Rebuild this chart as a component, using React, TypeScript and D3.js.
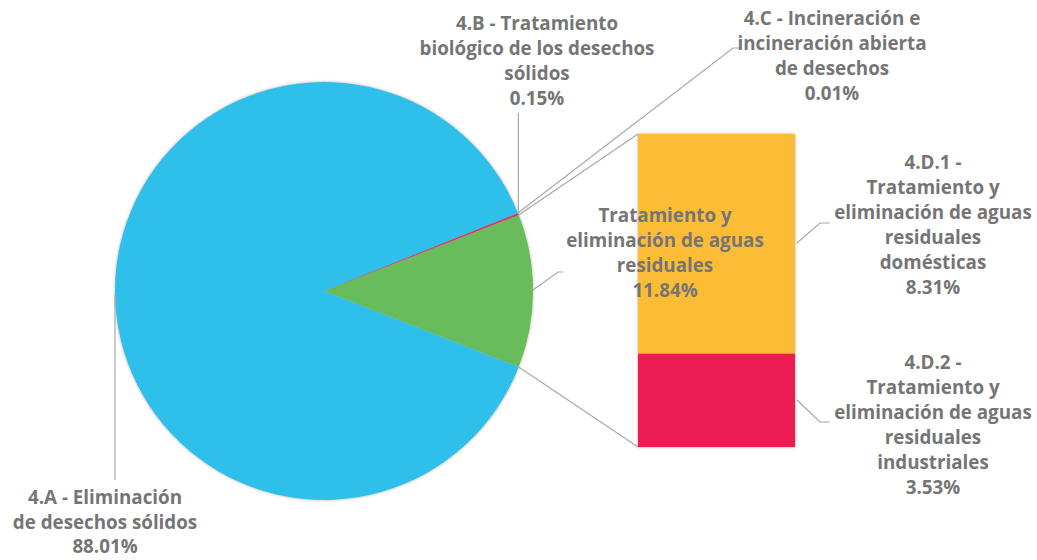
import React from "react";
import * as d3 from "d3";

const pieCategories = [
  "Tratamiento y eliminación de aguas residuales",
  "4.A - Eliminación de desechos sólidos",
  "4.C - Incineración e incineración abierta de desechos",
  "4.B - Tratamiento biológico de los desechos sólidos",
];
const pieValues = [11.84, 88.01, 0.01, 0.15];
const pieColors = ["#69BC5B", "#2FC0EA", "#9C27B0", "#E0306A"];

const barCategories = [
  "4.D.1 - Tratamiento y eliminación de aguas residuales domésticas",
  "4.D.2 - Tratamiento y eliminación de aguas residuales industriales",
];
const barValues = [8.31, 3.53];
const barColors = ["#FDBC36", "#EC1B52"];

const W = 1037;
const H = 560;
const cx = 324;
const cy = 291;
const R = 209;
const barX0 = 638;
const barX1 = 795;
const barTop = 134;
const barBottom = 447;

const TEXT = "#757575";
const LINE = "#a8a8a8";
const FONT = "'Open Sans', 'Noto Sans', sans-serif";
const FS = 18.8;
const LH = 25;

function Label({ x, y, lines, lh = LH }: { x: number; y: number; lines: string[]; lh?: number }) {
  return (
    <text x={x} y={y} textAnchor="middle" fontFamily={FONT} fontWeight={700} fontSize={FS} fill={TEXT}>
      {lines.map((l, i) => (
        <tspan key={i} x={x} dy={i === 0 ? 0 : lh}>
          {l}
        </tspan>
      ))}
    </text>
  );
}

export default function App() {
  const g = (pieValues[0] / d3.sum(pieValues)) * 2 * Math.PI;
  const start = Math.PI / 2 - g / 2;
  const pie = d3
    .pie<number>()
    .sort(null)
    .value((d) => d)
    .startAngle(start)
    .endAngle(start + 2 * Math.PI);
  const arcs = pie(pieValues);
  const arc = d3.arc<d3.PieArcDatum<number>>().innerRadius(0).outerRadius(R);

  const pt = (a: number, r: number = R) => [cx + r * Math.sin(a), cy - r * Math.cos(a)];
  const greenTop = pt(arcs[0].startAngle);
  const greenBot = pt(arcs[0].endAngle);

  const y = d3.scaleLinear().domain([0, d3.sum(barValues)]).range([barTop, barBottom]);
  let acc = 0;
  const bars = barValues.map((v, i) => {
    const r = { y0: y(acc), y1: y(acc + v), color: barColors[i], key: barCategories[i] };
    acc += v;
    return r;
  });

  const bStart = pt(arcs[3].startAngle + (arcs[3].endAngle - arcs[3].startAngle) / 2);
  const cPt = pt(arcs[2].startAngle);

  return (
    <svg width={W} height={H} style={{ position: "absolute", left: 0, top: 0, background: "#fff" }}>
      <defs>
        <filter id="sh" x="-10%" y="-10%" width="120%" height="120%">
          <feDropShadow dx="0" dy="0" stdDeviation="1.6" floodColor="#7a6050" floodOpacity="0.55" />
        </filter>
      </defs>
      <g filter="url(#sh)">
        {arcs.map((a, i) => (
          <path key={i} d={arc(a) || ""} transform={`translate(${cx},${cy})`} fill={pieColors[i]} />
        ))}
      </g>
      <g filter="url(#sh)">
        {bars.map((b) => (
          <rect key={b.key} x={barX0} y={b.y0} width={barX1 - barX0} height={b.y1 - b.y0} fill={b.color} />
        ))}
      </g>

      {/* series connector lines */}
      <line x1={greenTop[0]} y1={greenTop[1]} x2={barX0} y2={barTop} stroke={LINE} strokeWidth={1.2} />
      <line x1={greenBot[0]} y1={greenBot[1]} x2={barX0} y2={barBottom} stroke={LINE} strokeWidth={1.2} />

      {/* leader lines */}
      <polyline points={`${bStart[0]},${bStart[1]} ${bStart[0]},113`} fill="none" stroke={LINE} strokeWidth={1.2} />
      <polyline points={`${cPt[0]},${cPt[1]} 733,48 740,48`} fill="none" stroke={LINE} strokeWidth={1.2} />
      <polyline points={`${cx - R},${cy + 4} ${cx - R},480`} fill="none" stroke={LINE} strokeWidth={1.2} />
      <polyline points="533,290 558,272 563,272" fill="none" stroke={LINE} strokeWidth={1.2} />
      <polyline points="797,243 820,223 830,223" fill="none" stroke={LINE} strokeWidth={1.2} />
      <polyline points="797,400 820,422 830,422" fill="none" stroke={LINE} strokeWidth={1.2} />

      {/* labels */}
      <Label x={537} y={30} lines={["4.B - Tratamiento", "biológico de los desechos", "sólidos", "0.15%"]} />
      <Label x={832} y={25} lines={["4.C - Incineración e", "incineración abierta", "de desechos", "0.01%"]} />
      <Label x={665} y={222} lines={["Tratamiento y", "eliminación de aguas", "residuales", "11.84%"]} />
      <Label
        x={933}
        y={169}
        lines={["4.D.1 -", "Tratamiento y", "eliminación de aguas", "residuales", "domésticas", "8.31%"]}
      />
      <Label
        x={933}
        y={369}
        lines={["4.D.2 -", "Tratamiento y", "eliminación de aguas", "residuales", "industriales", "3.53%"]}
      />
      <Label x={105} y={504} lh={24.5} lines={["4.A - Eliminación", "de desechos sólidos", "88.01%"]} />
    </svg>
  );
}
